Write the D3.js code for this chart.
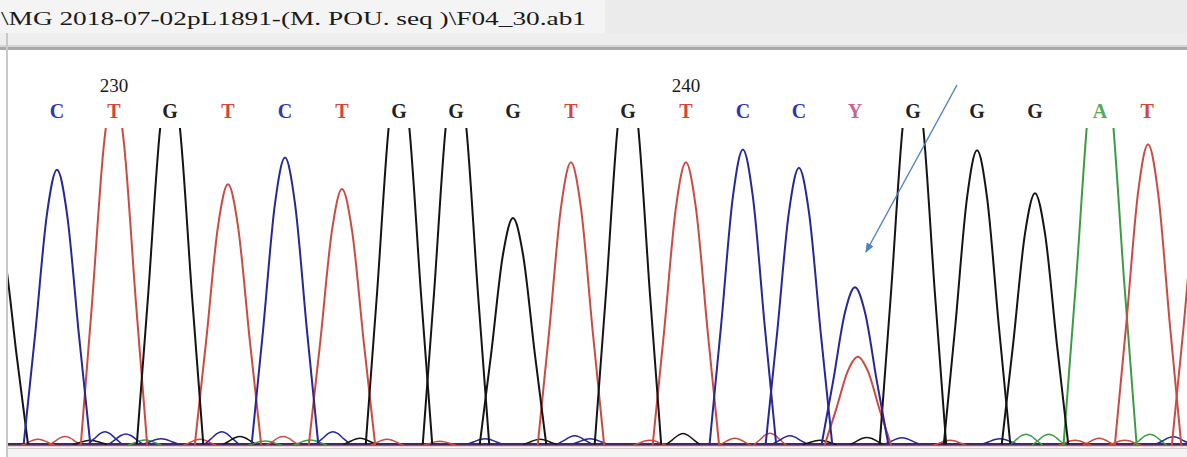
<!DOCTYPE html>
<html>
<head>
<meta charset="utf-8">
<script src="https://cdn.jsdelivr.net/npm/d3@7"></script>
<style>
  html, body { margin: 0; padding: 0; background: #fff; }
  svg { display: block; }
</style>
</head>
<body>
<svg id="chart" width="1187" height="457"></svg>
<script>
// file name shown in the tab
const fileTitle = "\\MG 2018-07-02pL1891-(M. POU. seq )\\F04_30.ab1";

// base calls and their scan positions
const baseCalls = ["C","T","G","T","C","T","G","G","G","T","G","T","C","C","Y","G","G","G","A","T"];
const baseScans = [2812, 2824, 2835.8, 2848, 2860, 2872, 2884, 2896, 2908, 2920.2, 2932.2, 2944.4, 2956.4, 2968.2, 2980, 2992.2, 3005.7, 3017.9, 3031.6, 3041.5];
const positionLabels = [230, 240];
const positionIdx = [1, 11];

// main peaks: scan, channel, intensity (values above 1000 are off-scale)
const peakScans = [2798.9, 2812, 2824, 2835.8, 2848, 2860, 2872, 2884, 2896, 2908, 2920.2, 2932.2, 2944.4, 2956.4, 2968.2, 2980, 2980.6, 2992.2, 3005.7, 3017.9, 3031.6, 3041.7, 3053.7];
const peakBase  = ["G","C","T","G","T","C","T","G","G","G","T","G","T","C","C","C","T","G","G","G","A","T","T"];
const peakValue = [700, 862, 1130, 1180, 821, 900, 806, 1200, 1200, 712, 890, 1200, 890, 925, 868, 492, 279, 1200, 925, 790, 1290, 947, 900];

// small background bumps
const noiseScans = [2808, 2813.7, 2819, 2822.1, 2826.5, 2830.5, 2833.9, 2842.1, 2846.7, 2850.5, 2855.8, 2859.6, 2865.3, 2870.1, 2875.8, 2881.5, 2892.6, 2902.1, 2913.7, 2921, 2924.2, 2936.8, 2943.8, 2954.7, 2962.1, 2966.3, 2972.6, 2982.5, 2989.9, 3000, 3010.5, 3016, 3020.8, 3026.3, 3031.4, 3036.8, 3042.1, 3047];
const noiseBase = ["T","T","G","C","C","A","C","T","C","G","A","T","A","C","G","T","T","C","G","C","C","T","G","T","T","C","G","G","C","T","C","A","A","T","T","T","A","C"];
const noiseValue = [19, 28, 13, 38, 31, 16, 16, 19, 38, 25, 13, 28, 16, 38, 19, 19, 13, 16, 16, 25, 16, 16, 34, 22, 38, 25, 13, 22, 19, 16, 16, 34, 34, 16, 22, 16, 34, 22];

const baseColor  = { A: "#3d9b45", C: "#26279a", G: "#141414", T: "#cc4a44" };
const letterColor = { A: "#58a858", C: "#3535ae", G: "#222222", T: "#d4453a", Y: "#c4668f" };
const baselineLevel = { A: 3, C: 7, G: 5, T: 2 };

const W = 1187, H = 457;
const svg = d3.select("#chart");

// header strip
svg.append("rect").attr("x", 0).attr("y", 0).attr("width", W).attr("height", 47).attr("fill", "#ebebeb");
svg.append("rect").attr("x", 0).attr("y", 0).attr("width", 605).attr("height", 33).attr("fill", "#f4f4f4");
svg.append("rect").attr("x", 0).attr("y", 33).attr("width", W).attr("height", 13).attr("fill", "#eeeeee");
svg.append("text")
  .attr("x", 1).attr("y", 25)
  .attr("font-family", "Liberation Serif, Times New Roman, serif")
  .attr("font-size", 18)
  .attr("fill", "#1a1a1a")
  .attr("textLength", 585)
  .attr("lengthAdjust", "spacingAndGlyphs")
  .text(fileTitle);
svg.append("rect").attr("x", 0).attr("y", 45).attr("width", W).attr("height", 2).attr("fill", "#d6d6d6");
svg.append("rect").attr("x", 0).attr("y", 47).attr("width", W).attr("height", 3).attr("fill", "#a9a9a9");

// panel borders
svg.append("rect").attr("x", 6).attr("y", 33).attr("width", 2).attr("height", H - 33).attr("fill", "#c8c8c8");
svg.append("rect").attr("x", 8).attr("y", 449).attr("width", W - 8).attr("height", 8).attr("fill", "#f4f4f4");
svg.append("rect").attr("x", 8).attr("y", 448).attr("width", W - 8).attr("height", 1).attr("fill", "#d0d0d0");

const x = d3.scaleLinear().domain([2800, 3049.9]).range([0, W]);
const y = d3.scaleLinear().domain([0, 1000]).range([446, 128]);

svg.append("clipPath").attr("id", "plotClip")
  .append("rect").attr("x", 8).attr("y", 128).attr("width", W - 8).attr("height", 320);

const g = svg.append("g").attr("clip-path", "url(#plotClip)");

// peak outline shape (scan offset, fraction of height)
const profile = [[-7, 0], [-4.6, 0.4], [-2.1, 0.84], [0, 1], [2.1, 0.84], [4.6, 0.4], [7, 0]];

const line = d3.line()
  .x(d => x(d[0]))
  .y(d => y(d[1]))
  .curve(d3.curveMonotoneX);

function peakPoints(scan, value, widthScale, floor) {
  return profile.map(p => [scan + p[0] * widthScale, floor + value * p[1]]);
}

// baselines
["A", "G", "T", "C"].forEach(b => {
  g.append("path")
    .attr("d", line([[2795, baselineLevel[b]], [3055, baselineLevel[b]]]))
    .attr("fill", "none")
    .attr("stroke", baseColor[b])
    .attr("stroke-width", 1.6);
});

// background bumps
noiseScans.forEach((s, i) => {
  const b = noiseBase[i];
  g.append("path")
    .attr("d", line(peakPoints(s, noiseValue[i], 0.5, baselineLevel[b])))
    .attr("fill", "none")
    .attr("stroke", baseColor[b])
    .attr("stroke-width", 1.5);
});

// main peaks, drawn A, T, G, C so blue sits on top in the mixed call
const order = ["A", "T", "G", "C"];
order.forEach(b => {
  peakScans.forEach((s, i) => {
    if (peakBase[i] !== b) return;
    g.append("path")
      .attr("d", line(peakPoints(s, peakValue[i], b === "A" ? 1.1 : 1, baselineLevel[b])))
      .attr("fill", "none")
      .attr("stroke", baseColor[b])
      .attr("stroke-width", 2);
  });
});

// base letters
svg.selectAll(".call")
  .data(baseCalls)
  .enter().append("text")
  .attr("class", "call")
  .attr("x", (d, i) => x(baseScans[i]))
  .attr("y", 118)
  .attr("text-anchor", "middle")
  .attr("font-family", "Liberation Serif, Times New Roman, serif")
  .attr("font-weight", "bold")
  .attr("font-size", 20)
  .attr("fill", d => letterColor[d])
  .text(d => d);

// position numbers
svg.selectAll(".pos")
  .data(positionLabels)
  .enter().append("text")
  .attr("class", "pos")
  .attr("x", (d, i) => x(baseScans[positionIdx[i]]))
  .attr("y", 92)
  .attr("text-anchor", "middle")
  .attr("font-family", "Liberation Serif, Times New Roman, serif")
  .attr("font-size", 19)
  .attr("fill", "#1a1a1a")
  .text(d => d);

// annotation arrow pointing at the mixed peak
const defs = svg.append("defs");
defs.append("marker")
  .attr("id", "head")
  .attr("viewBox", "0 0 10 10")
  .attr("refX", 9).attr("refY", 5)
  .attr("markerWidth", 7).attr("markerHeight", 7)
  .attr("orient", "auto")
  .append("path").attr("d", "M0,1 L10,5 L0,9 Z").attr("fill", "#5081c6");

svg.append("line")
  .attr("x1", 957).attr("y1", 85)
  .attr("x2", x(2982.3)).attr("y2", y(610))
  .attr("stroke", "#5081c6")
  .attr("stroke-width", 1.4)
  .attr("marker-end", "url(#head)");
</script>
</body>
</html>
